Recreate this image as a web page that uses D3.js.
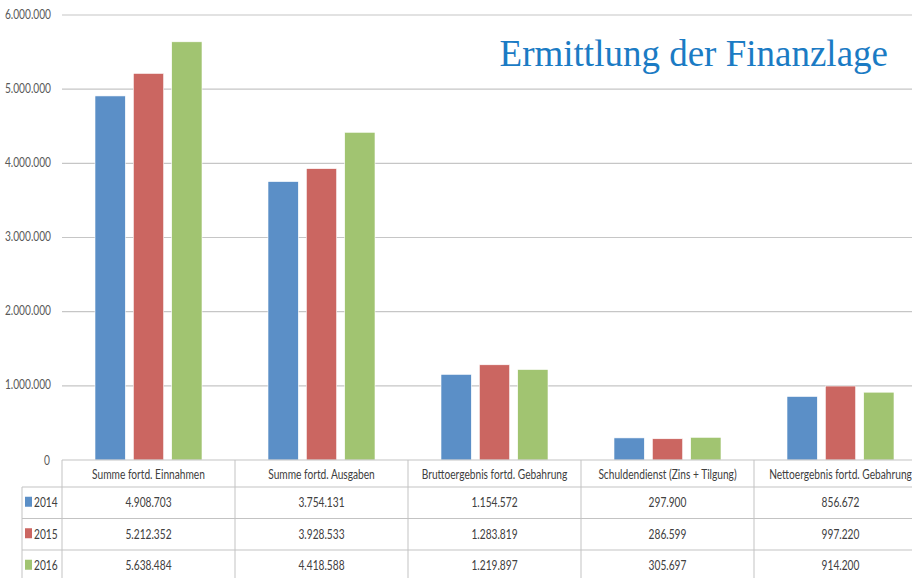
<!DOCTYPE html>
<html>
<head>
<meta charset="utf-8">
<script src="https://cdn.jsdelivr.net/npm/d3@7"></script>
<style>
  body { margin: 0; background: #fff; overflow: hidden; }
  text { font-family: Lato, "Open Sans", sans-serif; }
</style>
</head>
<body>
<div id="chart"></div>
<script>
const categories = ["Summe fortd. Einnahmen", "Summe fortd. Ausgaben", "Bruttoergebnis fortd. Gebahrung", "Schuldendienst (Zins + Tilgung)", "Nettoergebnis fortd. Gebahrung"];
const years = ["2014", "2015", "2016"];
const values2014 = [4908703, 3754131, 1154572, 297900, 856672];
const values2015 = [5212352, 3928533, 1283819, 286599, 997220];
const values2016 = [5638484, 4418588, 1219897, 305697, 914200];
const yTicks = [0, 1000000, 2000000, 3000000, 4000000, 5000000, 6000000];
const colors = ["#5b8fc7", "#cb6661", "#a1c471"];

const series = [values2014, values2015, values2016];
const width = 912, height = 578;
const plotLeft = 62, plotRight = 927, plotTop = 15, base = 460;
const rowH = 31.5, headH = 27;
const fs = 13;

const de = d3.formatLocale({ decimal: ",", thousands: ".", grouping: [3], currency: ["", " €"] });
const fmt = de.format(",d");

const svg = d3.select("#chart").append("svg")
  .attr("width", width)
  .attr("height", height);

// the original font is a narrow one, so squeeze the text horizontally
const probe = svg.append("text").attr("font-size", fs).text(categories[0]);
const sx = 113 / probe.node().getComputedTextLength();
probe.remove();

function label(g, x, yy, txt, anchor, color) {
  return g.append("text")
    .attr("transform", "translate(" + x + "," + yy + ") scale(" + sx + ",1)")
    .attr("dy", "0.35em")
    .attr("text-anchor", anchor)
    .attr("font-size", fs)
    .attr("fill", color)
    .text(txt);
}

const y = d3.scaleLinear().domain([0, 6000000]).range([base, plotTop]);
const x0 = d3.scaleBand().domain(categories).range([plotLeft, plotRight]).paddingInner(0).paddingOuter(0);
const x1 = d3.scaleBand().domain(years).range([33, x0.bandwidth() - 33]).paddingInner(0.21);

// gridlines
svg.append("g").selectAll("line")
  .data(yTicks.filter(d => d > 0))
  .enter().append("line")
  .attr("x1", plotLeft).attr("x2", width)
  .attr("y1", d => y(d)).attr("y2", d => y(d))
  .attr("stroke", "#c6c6c6").attr("stroke-width", 1.2);

// y labels
const yAx = svg.append("g");
yTicks.forEach(d => label(yAx, d === 0 ? 50 : 51, y(d) - (d === 0 ? 0 : 1), fmt(d), "end", "#595959"));

// bars
const groups = svg.append("g").selectAll("g")
  .data(categories)
  .enter().append("g")
  .attr("transform", d => "translate(" + x0(d) + ",0)");

groups.selectAll("rect")
  .data((d, i) => years.map((yr, j) => ({ yr: yr, v: series[j][i], c: colors[j] })))
  .enter().append("rect")
  .attr("x", d => x1(d.yr))
  .attr("y", d => y(d.v))
  .attr("width", x1.bandwidth())
  .attr("height", d => base - y(d.v))
  .attr("fill", d => d.c)
  .attr("stroke", "#fff").attr("stroke-width", 0.6);

// data table
const grid = "#c3c3c3";
const tbl = svg.append("g");
tbl.append("line").attr("x1", plotLeft).attr("x2", width).attr("y1", base).attr("y2", base).attr("stroke", grid);
for (let r = 0; r < 3; r++) {
  const yy = base + headH + r * rowH;
  tbl.append("line").attr("x1", 22).attr("x2", width).attr("y1", yy).attr("y2", yy).attr("stroke", grid);
}
tbl.append("line").attr("x1", 22).attr("x2", 22).attr("y1", base + headH).attr("y2", height).attr("stroke", grid);
categories.forEach(c => {
  tbl.append("line").attr("x1", x0(c)).attr("x2", x0(c)).attr("y1", base).attr("y2", height).attr("stroke", grid);
});

categories.forEach(c => label(tbl, x0(c) + x0.bandwidth() / 2, base + headH / 2 + 1, c, "middle", "#404040"));

years.forEach((yr, j) => {
  const cy = base + headH + j * rowH + rowH / 2;
  tbl.append("rect").attr("x", 25).attr("y", cy - 6).attr("width", 7).attr("height", 10).attr("fill", colors[j]);
  label(tbl, 34, cy, yr, "start", "#404040");
  series[j].forEach((v, i) => label(tbl, x0(categories[i]) + x0.bandwidth() / 2, cy, fmt(v), "middle", "#404040"));
});

// title
svg.append("text")
  .attr("x", 888).attr("y", 66)
  .attr("text-anchor", "end")
  .attr("font-size", 37)
  .attr("fill", "#1b7bc4")
  .style("font-family", "'Liberation Serif', 'DejaVu Serif', serif")
  .text("Ermittlung der Finanzlage");
</script>
</body>
</html>
